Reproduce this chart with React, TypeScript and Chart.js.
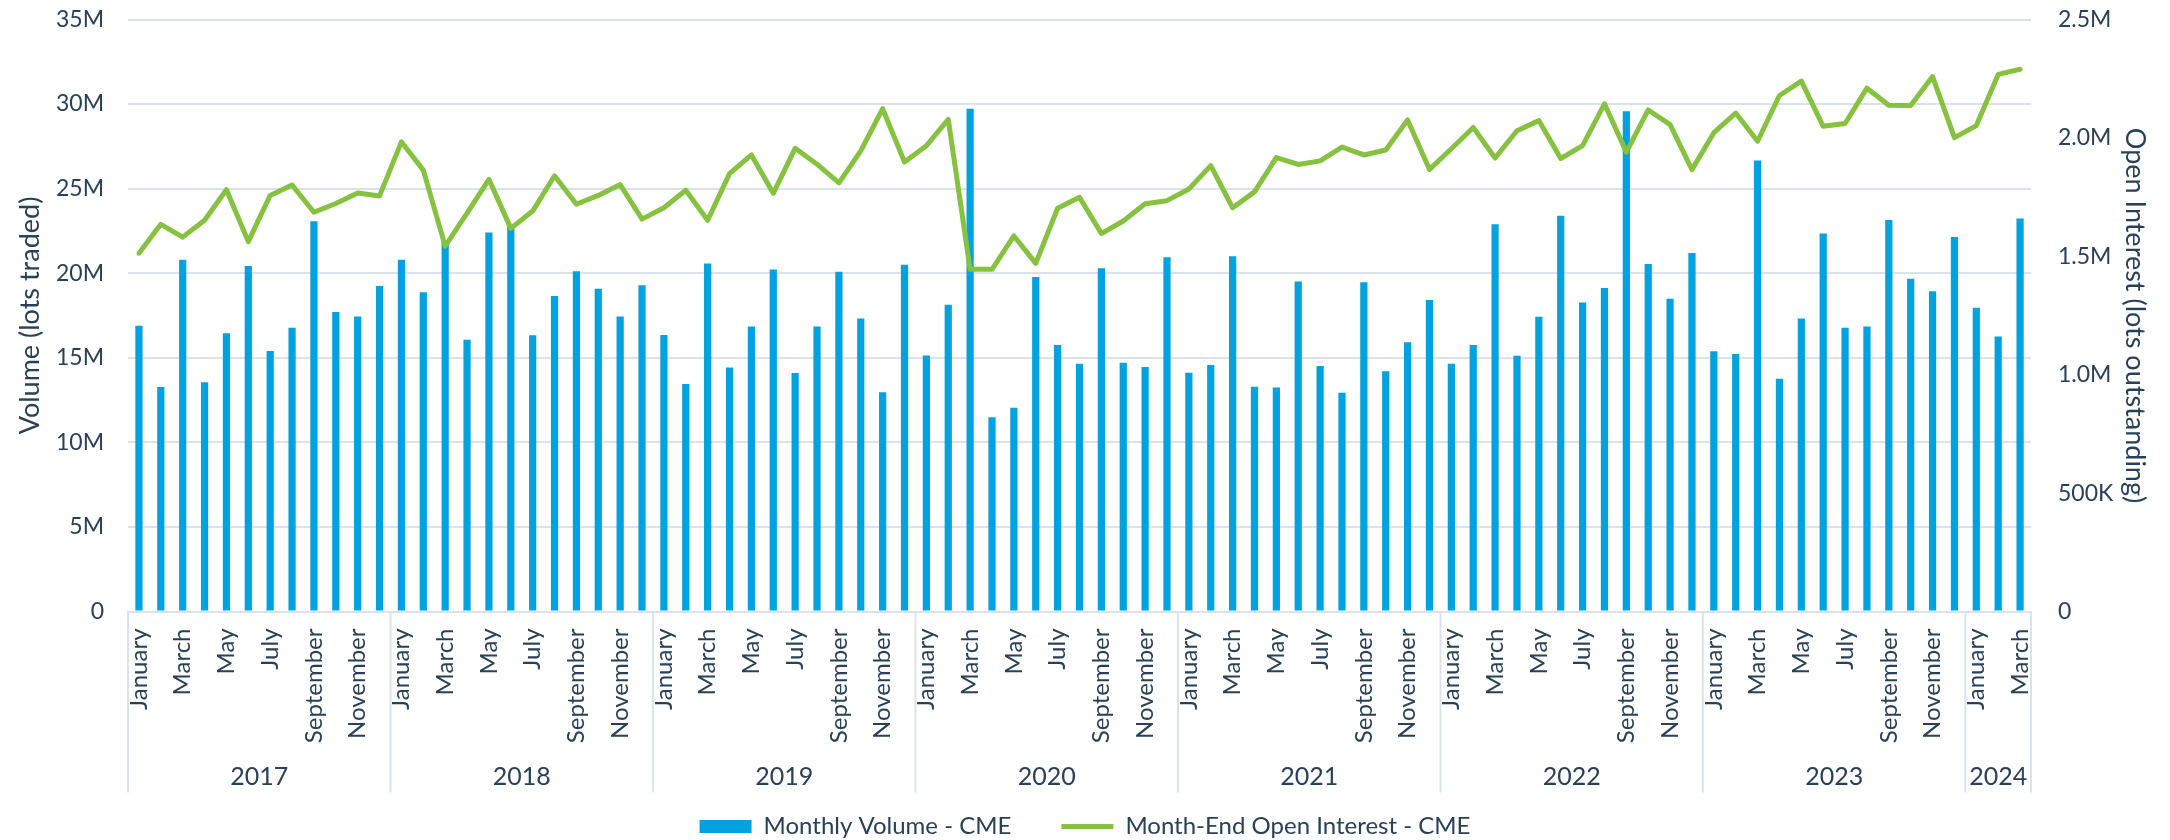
import React, { useEffect, useRef } from 'react';
import { Chart, registerables } from 'chart.js';

Chart.register(...registerables);

// ---- data ----
const yearLabels = ['2017', '2018', '2019', '2020', '2021', '2022', '2023', '2024'];
const monthsPerYear = [12, 12, 12, 12, 12, 12, 12, 3];
const monthNames = [
  'January', 'February', 'March', 'April', 'May', 'June',
  'July', 'August', 'September', 'October', 'November', 'December',
];

// Monthly volume, millions of lots
const volume2017 = [16.9, 13.27, 20.8, 13.55, 16.45, 20.43, 15.4, 16.78, 23.07, 17.7, 17.44, 19.25];
const volume2018 = [20.8, 18.87, 21.9, 16.07, 22.4, 22.8, 16.33, 18.65, 20.12, 19.08, 17.44, 19.29];
const volume2019 = [16.35, 13.45, 20.57, 14.43, 16.85, 20.22, 14.1, 16.85, 20.08, 17.32, 12.96, 20.5];
const volume2020 = [15.14, 18.13, 29.73, 11.49, 12.05, 19.77, 15.76, 14.64, 20.29, 14.71, 14.45, 20.95];
const volume2021 = [14.12, 14.57, 21.0, 13.29, 13.24, 19.51, 14.52, 12.93, 19.46, 14.21, 15.92, 18.41];
const volume2022 = [14.64, 15.76, 22.9, 15.12, 17.42, 23.4, 18.27, 19.13, 29.57, 20.55, 18.49, 21.19];
const volume2023 = [15.38, 15.23, 26.67, 13.76, 17.32, 22.35, 16.78, 16.85, 23.14, 19.67, 18.94, 22.14];
const volume2024 = [17.96, 16.26, 23.23];

// Month-end open interest, millions of lots
const oi2017 = [1.513, 1.635, 1.581, 1.652, 1.781, 1.562, 1.757, 1.801, 1.686, 1.723, 1.767, 1.755];
const oi2018 = [1.983, 1.864, 1.543, 1.682, 1.825, 1.618, 1.691, 1.84, 1.72, 1.757, 1.803, 1.657];
const oi2019 = [1.705, 1.779, 1.652, 1.849, 1.928, 1.766, 1.956, 1.889, 1.81, 1.945, 2.123, 1.898];
const oi2020 = [1.967, 2.078, 1.445, 1.445, 1.586, 1.47, 1.703, 1.749, 1.596, 1.649, 1.722, 1.735];
const oi2021 = [1.784, 1.883, 1.705, 1.772, 1.917, 1.888, 1.903, 1.961, 1.928, 1.949, 2.076, 1.867];
const oi2022 = [1.954, 2.044, 1.915, 2.03, 2.073, 1.913, 1.967, 2.144, 1.94, 2.118, 2.056, 1.866];
const oi2023 = [2.022, 2.105, 1.986, 2.179, 2.24, 2.049, 2.061, 2.21, 2.138, 2.137, 2.259, 2.001];
const oi2024 = [2.052, 2.268, 2.29];

const volumeM = [
  ...volume2017, ...volume2018, ...volume2019, ...volume2020,
  ...volume2021, ...volume2022, ...volume2023, ...volume2024,
];
const openInterestM = [
  ...oi2017, ...oi2018, ...oi2019, ...oi2020,
  ...oi2021, ...oi2022, ...oi2023, ...oi2024,
];

const categories: string[] = [];
yearLabels.forEach((_, yi) => {
  for (let m = 0; m < monthsPerYear[yi]; m++) categories.push(monthNames[m]);
});

// ---- styles ----
const TEXT = '#2a4058';
const GRID = '#dae3ec';
const BAR = '#00a3e0';
const LINE = '#86c140';
const FONT = 'Lato';

const yearAxisPlugin = {
  id: 'yearAxis',
  afterDraw(chart: any) {
    const x = chart.scales.x;
    const ctx = chart.ctx;
    const top = chart.chartArea.bottom;
    const step = x.getPixelForValue(1) - x.getPixelForValue(0);
    ctx.save();
    ctx.strokeStyle = GRID;
    ctx.lineWidth = 2;
    ctx.fillStyle = TEXT;
    ctx.font = `25px ${FONT}`;
    ctx.textAlign = 'center';
    ctx.textBaseline = 'middle';
    let start = 0;
    yearLabels.forEach((label, yi) => {
      const n = monthsPerYear[yi];
      const l = x.getPixelForValue(start) - step / 2;
      const r = x.getPixelForValue(start + n - 1) + step / 2;
      ctx.beginPath();
      ctx.moveTo(l, top);
      ctx.lineTo(l, top + 181);
      if (yi === yearLabels.length - 1) {
        ctx.moveTo(r, top);
        ctx.lineTo(r, top + 181);
      }
      ctx.stroke();
      ctx.fillText(label, (l + r) / 2, top + 165);
      start += n;
    });
    ctx.restore();
  },
};

export default function App() {
  const ref = useRef<HTMLCanvasElement | null>(null);

  useEffect(() => {
    document.body.style.margin = '0';
    document.body.style.overflow = 'hidden';
    const canvas = ref.current;
    if (!canvas) return;
    const chart = new Chart(canvas, {
      type: 'bar',
      data: {
        labels: categories,
        datasets: [
          {
            type: 'bar',
            label: 'Monthly Volume - CME',
            data: volumeM,
            backgroundColor: BAR,
            yAxisID: 'y',
            order: 1,
            barPercentage: 0.33,
            categoryPercentage: 1,
          },
          {
            type: 'line',
            label: 'Month-End Open Interest - CME',
            data: openInterestM,
            borderColor: LINE,
            backgroundColor: LINE,
            borderWidth: 5,
            pointRadius: 0,
            tension: 0,
            yAxisID: 'y1',
            order: 0,
            borderCapStyle: 'round',
            borderJoinStyle: 'round',
          } as any,
        ],
      },
      options: {
        animation: false,
        responsive: true,
        maintainAspectRatio: false,
        devicePixelRatio: 1,
        layout: { padding: { top: 19.5, left: 0, right: 0, bottom: 0 } },
        plugins: {
          tooltip: { enabled: false },
          legend: {
            position: 'bottom',
            maxHeight: 75.5,
            labels: {
              usePointStyle: true,
              pointStyleWidth: 52,
              boxHeight: 13,
              padding: 50,
              color: TEXT,
              font: { family: FONT, size: 24 },
              generateLabels: (c: any) => {
                const items = (Chart.defaults.plugins.legend.labels as any).generateLabels(c);
                items.sort((a: any, b: any) => a.datasetIndex - b.datasetIndex);
                items.forEach((it: any) => {
                  it.pointStyle = it.datasetIndex === 0 ? 'rect' : 'line';
                });
                return items;
              },
            },
          } as any,
        },
        scales: {
          x: {
            type: 'category',
            offset: true,
            grid: { display: false, drawTicks: false },
            border: { display: true, color: GRID, width: 2 },
            ticks: {
              autoSkip: false,
              maxRotation: 90,
              minRotation: 90,
              padding: 17,
              color: TEXT,
              font: { family: FONT, size: 24 },
              callback: (_v: any, i: number) => (i % 2 === 0 ? categories[i] : ''),
            },
            afterFit: (s: any) => {
              s.height = 153;
              s.paddingLeft = 0;
              s.paddingRight = 0;
            },
          },
          y: {
            position: 'left',
            min: 0,
            max: 35,
            ticks: {
              stepSize: 5,
              padding: 24,
              color: TEXT,
              font: { family: FONT, size: 23 },
              callback: (v: any) => (v === 0 ? '0' : `${v}M`),
            },
            grid: { color: GRID, lineWidth: 2, drawTicks: false },
            border: { display: false },
            title: {
              display: true,
              text: 'Volume (lots traded)',
              color: TEXT,
              font: { family: FONT, size: 27 },
              padding: { top: 14, bottom: 0 },
            },
            afterFit: (s: any) => {
              s.width = 128;
              s.paddingTop = 0;
              s.paddingBottom = 0;
            },
          },
          y1: {
            position: 'right',
            min: 0,
            max: 2.5,
            ticks: {
              stepSize: 0.5,
              padding: 27,
              color: TEXT,
              font: { family: FONT, size: 23 },
              callback: (v: any) =>
                v === 0 ? '0' : v < 1 ? `${Math.round(v * 1000)}K` : `${Number(v).toFixed(1)}M`,
            },
            grid: { drawOnChartArea: false, drawTicks: false },
            border: { display: false },
            title: {
              display: true,
              text: 'Open Interest (lots outstanding)',
              color: TEXT,
              font: { family: FONT, size: 27 },
              padding: { top: 19, bottom: 0 },
            },
            afterFit: (s: any) => {
              s.width = 139;
              s.paddingTop = 0;
              s.paddingBottom = 0;
            },
          },
        } as any,
      },
      plugins: [yearAxisPlugin],
    });
    return () => chart.destroy();
  }, []);

  return (
    <div style={{ width: '2170px', height: '840px', position: 'relative' }}>
      <canvas ref={ref} />
    </div>
  );
}
